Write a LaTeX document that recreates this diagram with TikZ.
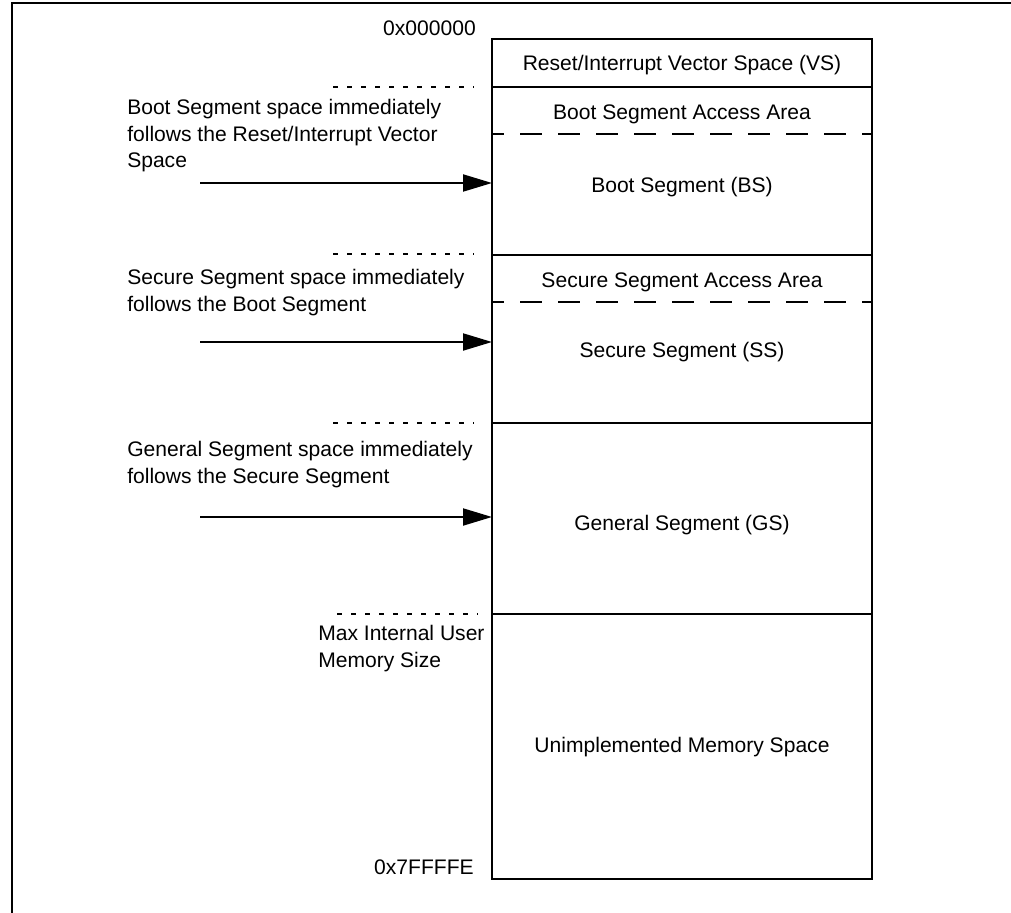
\documentclass[tikz,border=0pt]{standalone}
\usepackage{fontspec}
\setmainfont{Liberation Sans}
\usetikzlibrary{arrows.meta}
\begin{document}
\begin{tikzpicture}[x=0.75pt,y=-0.75pt,
  lbl/.style={font=\fontsize{15.8pt}{20pt}\selectfont, inner sep=0pt},
  lefttext/.style={lbl, anchor=base west, align=left},
  boxtext/.style={lbl, anchor=base},
  addr/.style={lbl, anchor=base east},
  frame/.style={line width=2pt},
  boxline/.style={line width=1.9pt},
  dotline/.style={line width=1.1pt, dash pattern=on 3.75pt off 6.75pt},
  innerdash/.style={line width=1.5pt, dash pattern=on 16.5pt off 12pt, dash phase=7.5pt},
  arr/.style={line width=1.5pt, -{Triangle[length=21.75pt,width=12.75pt]}}]
\useasboundingbox (0,0) rectangle (1011,913);
% outer frame (cropped)
\draw[frame] (1011,3) -- (12,3) -- (12,913);
% memory map box
\coordinate (tl) at (492,39);
\coordinate (br) at (872,879);
\draw[boxline] (tl) rectangle (br);
\draw[boxline] (492,87) -- (872,87);
\draw[boxline] (492,255) -- (872,255);
\draw[boxline] (492,423) -- (872,423);
\draw[boxline] (492,614) -- (872,614);
\draw[innerdash] (492,134) -- (872,134);
\draw[innerdash] (492,302) -- (872,302);
% box texts
\node[boxtext] (vs) at (682,70.5) {Reset/Interrupt Vector Space (VS)};
\node[boxtext] (bsaa) at (682,119.5) {Boot Segment Access Area};
\node[boxtext] (bs) at (682,192.5) {Boot Segment (BS)};
\node[boxtext] (ssaa) at (682,287.5) {Secure Segment Access Area};
\node[boxtext] (ss) at (682,357.5) {Secure Segment (SS)};
\node[boxtext] (gs) at (682,530.5) {General Segment (GS)};
\node[boxtext] (um) at (682,752.5) {Unimplemented Memory Space};
% addresses
\node[addr] (a0) at (476,36) {0x000000};
\node[addr] (a1) at (474,874.5) {0x7FFFFE};
% dotted boundary markers
\draw[dotline] (333,87) -- (474,87);
\draw[dotline] (333,254) -- (474,254);
\draw[dotline] (333,423) -- (474,423);
\draw[dotline] (337,614) -- (478,614);
% left descriptions (anchored at baseline of last line)
\node[lefttext] (t1) at (127,168) {Boot Segment space immediately\\follows the Reset/Interrupt Vector\\Space};
\node[lefttext] (t2) at (127,311.5) {Secure Segment space immediately\\follows the Boot Segment};
\node[lefttext] (t3) at (127,483) {General Segment space immediately\\follows the Secure Segment};
\node[lefttext] (t4) at (318,667.5) {Max Internal User\\Memory Size};
% arrows
\coordinate (s1) at (200,183);
\coordinate (e1) at (492,183);
\coordinate (s2) at (200,342);
\coordinate (e2) at (492,342);
\coordinate (s3) at (200,517);
\coordinate (e3) at (492,517);
\draw[arr] (s1) -- (e1);
\draw[arr] (s2) -- (e2);
\draw[arr] (s3) -- (e3);
\end{tikzpicture}
\end{document}
